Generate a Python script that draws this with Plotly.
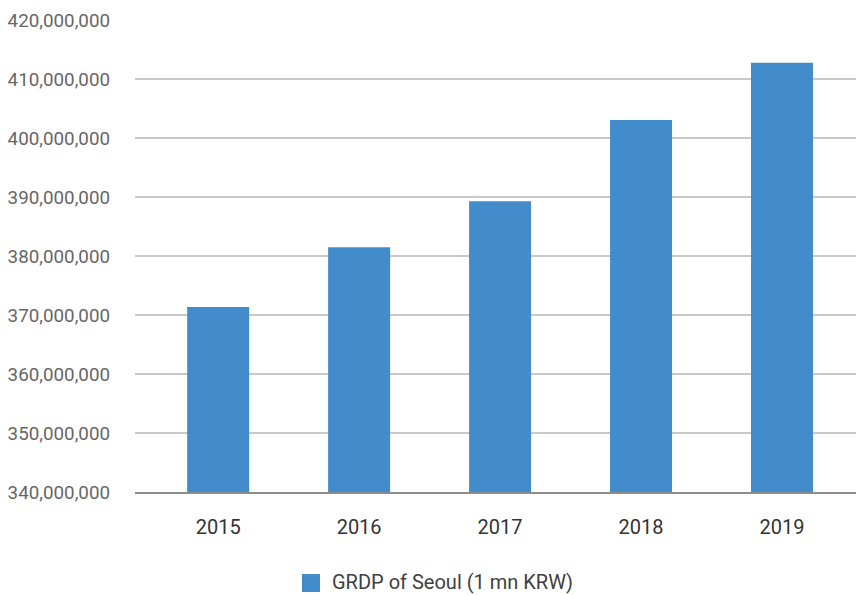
import plotly.graph_objects as go

# Seoul gross regional domestic product, million KRW
years = ["2015", "2016", "2017", "2018", "2019"]
grdp = [371_360_000, 381_500_000, 389_300_000, 403_050_000, 412_750_000]
y_ticks = [340_000_000 + i * 10_000_000 for i in range(9)]
series_name = "GRDP of Seoul (1 mn KRW)"
bar_color = "#428ccb"

# plot area geometry in pixels, used to place the legend key below the axis
L, R, T, B, W, H = 135, 0, 20, 103, 856, 595
pw, ph = W - L - R, H - T - B


def px_x(x):
    return (x - L) / pw


def px_y(y):
    return (H - B - y) / ph


fig = go.Figure(
    go.Bar(
        x=years,
        y=grdp,
        name=series_name,
        marker=dict(color=bar_color, line=dict(width=0)),
        width=0.44,
        showlegend=False,
    )
)

# legend key: square swatch + label
fig.add_shape(
    type="rect", xref="paper", yref="paper",
    x0=px_x(302), x1=px_x(320), y0=px_y(592), y1=px_y(574),
    fillcolor=bar_color, line=dict(width=0),
)
fig.add_annotation(
    text=series_name, xref="paper", yref="paper",
    x=px_x(330), y=px_y(582), xanchor="left", yanchor="middle",
    showarrow=False, font=dict(size=20, color="#404040"),
)

fig.update_layout(
    width=W,
    height=H,
    margin=dict(l=L, r=R, t=T, b=B, autoexpand=False),
    paper_bgcolor="white",
    plot_bgcolor="white",
    font=dict(family="Roboto, 'Noto Sans CJK KR', sans-serif", size=18, color="#595959"),
    showlegend=False,
    xaxis=dict(
        type="category",
        range=[-0.59, 4.525],
        showgrid=False,
        showline=True,
        linecolor="#8c8c8c",
        linewidth=2,
        ticks="",
        ticklabelstandoff=16,
        tickfont=dict(size=20, color="#333333"),
    ),
    yaxis=dict(
        range=[340_000_000, 420_000_000],
        tickvals=y_ticks,
        tickformat=",d",
        showgrid=True,
        gridcolor="#c9c9c9",
        gridwidth=2,
        zeroline=False,
        showline=False,
        ticks="",
        ticklabelstandoff=24,
        tickfont=dict(size=18.8, color="#666666"),
    ),
)

fig.write_html("out.html")
